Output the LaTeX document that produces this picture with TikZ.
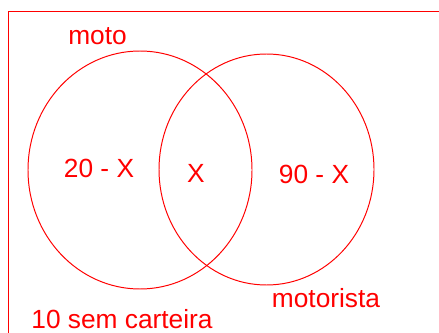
\documentclass[tikz,border=0pt]{standalone}
\usepackage{fontspec}
\setmainfont{Liberation Sans}
\begin{document}
\begin{tikzpicture}[x=0.025cm, y=-0.025cm, line width=0.7pt, line join=round, line cap=round, font=\fontsize{18.7}{22}\selectfont,
	lbl/.style={text=red, inner sep=0pt, anchor=base}]
			\clip (0,0) rectangle (439,333);
			\draw[red] (8,340)--(8,11)--(445,11);
			\draw[red] (140,170) ellipse [x radius=112, y radius=119];
			\draw[red] (266.5,169.5) ellipse [x radius=107.5, y radius=115.5];
			\node[lbl] (moto) at (97.5,45) {moto};
			\node[lbl] (motorista) at (326,307) {motorista};
			\node[lbl] (soMoto) at (99,178) {20 - X};
			\node[lbl] (ambos) at (196,183) {X};
			\node[lbl] (soMotorista) at (314,184) {90 - X};
			\node[lbl] (semCarteira) at (122,328) {10 sem carteira};
		\end{tikzpicture}
\end{document}
